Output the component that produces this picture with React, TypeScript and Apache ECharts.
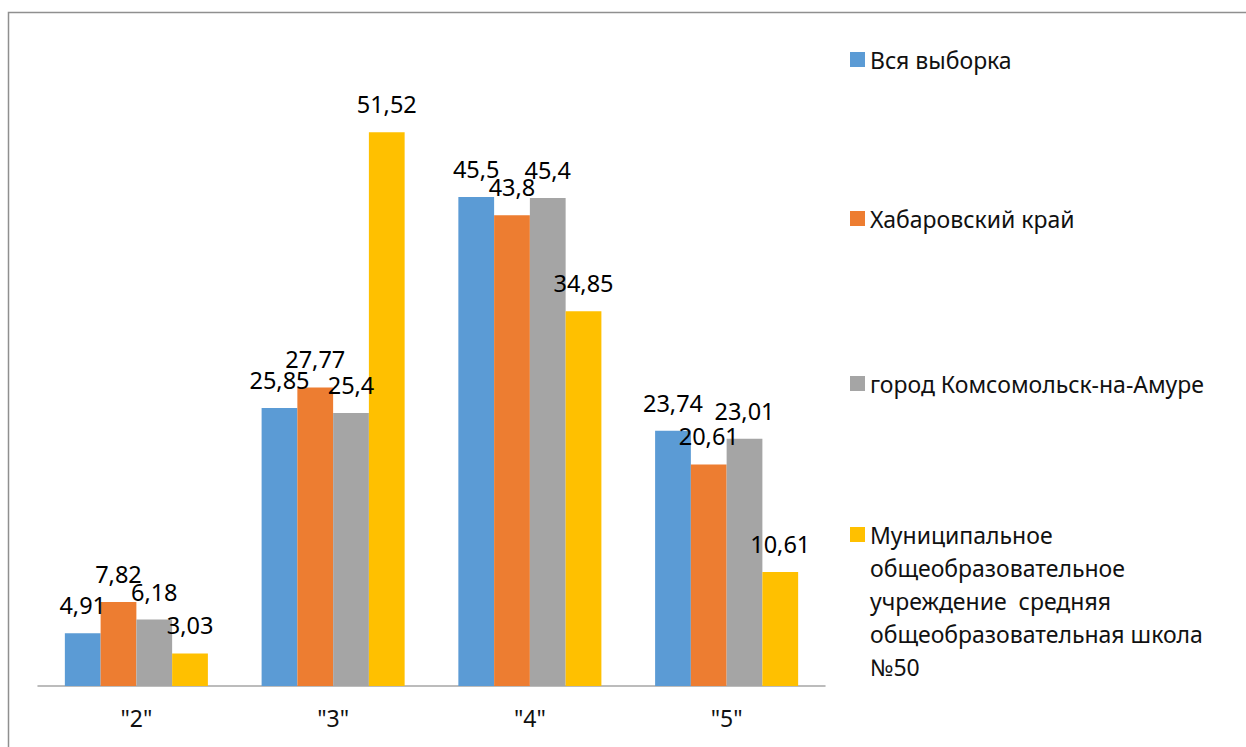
import React, { useEffect, useRef } from "react";
import * as echarts from "echarts";

const categories = ['"2"', '"3"', '"4"', '"5"'];
const seriesNames = [
  "Вся выборка",
  "Хабаровский край",
  "город Комсомольск-на-Амуре",
  "Муниципальное\nобщеобразовательное\nучреждение  средняя\nобщеобразовательная школа\n№50",
];
const allSample = [4.91, 25.85, 45.5, 23.74];
const khabarovsk = [7.82, 27.77, 43.8, 20.61];
const komsomolsk = [6.18, 25.4, 45.4, 23.01];
const school50 = [3.03, 51.52, 34.85, 10.61];
const colors = ["#5B9BD5", "#ED7D31", "#A5A5A5", "#FFC000"];

const FONT = "'Noto Sans', 'Open Sans', sans-serif";

export default function App() {
  const ref = useRef<HTMLDivElement>(null);
  useEffect(() => {
    if (!ref.current) return;
    const chart = echarts.init(ref.current, undefined, { renderer: "svg" });
    const values = [allSample, khabarovsk, komsomolsk, school50];
    const legendTops = [48, 207, 372, 386];
    const fmt = (p: any) => String(p.value).replace(".", ",");
    chart.setOption({
      animation: false,
      textStyle: { fontFamily: FONT },
      graphic: [
        {
          type: "rect",
          shape: { x: 8.5, y: 12.5, width: 1300, height: 800 },
          style: { fill: "none", stroke: "#8f8f8f", lineWidth: 1.5 },
          silent: true,
        },
      ],
      grid: { left: 38, right: 421, top: 41, bottom: 61 },
      xAxis: {
        type: "category",
        data: categories,
        axisLine: { lineStyle: { color: "#a6a6a6", width: 1.5 } },
        axisTick: { length: 8, lineStyle: { color: "#a6a6a6", width: 1.5 } },
        axisLabel: { color: "#111", fontSize: 23, margin: 20, fontFamily: FONT },
      },
      yAxis: { type: "value", min: 0, max: 60, show: false, splitLine: { show: false } },
      legend: seriesNames.map((name, i) => ({
        data: [name],
        left: 850,
        top: legendTops[i],
        padding: 0,
        itemWidth: 15,
        itemHeight: 15,
        itemGap: 7,
        icon: "rect",
        selectedMode: false,
        formatter: i === 3 ? (n: string) => "\n\n\n\n" + n : undefined,
        textStyle:
          i === 3
            ? { color: "#111", fontSize: 23, fontFamily: FONT, lineHeight: 33 }
            : { color: "#111", fontSize: 23, fontFamily: FONT, lineHeight: 15 },
      })),
      series: seriesNames.map((name, i) => ({
        name,
        type: "bar",
        data: values[i],
        barGap: "0%",
        barCategoryGap: "27.3%",
        itemStyle: { color: colors[i] },
        label: {
          show: true,
          position: "top",
          distance: 16,
          color: "#000",
          fontSize: 23.5,
          fontFamily: FONT,
          formatter: fmt,
        },
      })),
    });
    return () => chart.dispose();
  }, []);
  return (
    <div
      ref={ref}
      style={{ position: "fixed", left: 0, top: 0, width: 1246, height: 747, background: "#fff" }}
    />
  );
}
